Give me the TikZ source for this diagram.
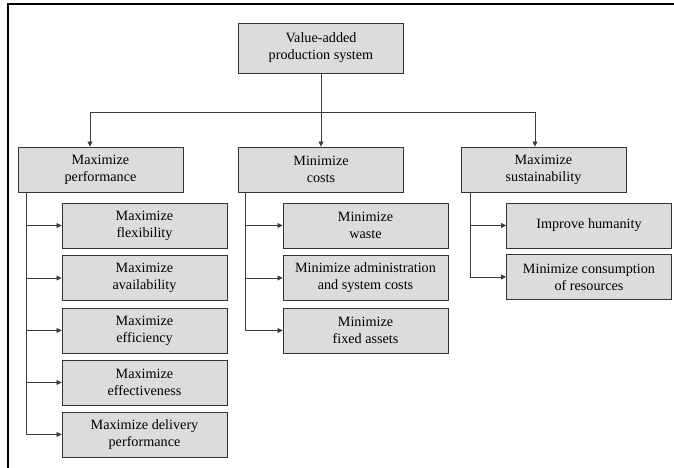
\documentclass[tikz,border=0pt]{standalone}
\usepackage{fontspec}
\setmainfont{Liberation Serif}
\usetikzlibrary{arrows.meta}
\definecolor{boxfill}{HTML}{DCDCDC}
\definecolor{boxline}{HTML}{333333}
\definecolor{conn}{HTML}{3A3A3A}
\tikzset{
  box/.style={draw=boxline, fill=boxfill, line width=0.9pt, minimum width=165pt, minimum height=45pt, inner sep=0pt, align=center, font=\fontsize{14.2}{16.8}\selectfont},
  topbox/.style={box, minimum height=50pt},
  conn/.style={draw=conn, line width=0.8pt},
  arr/.style={conn, -{Triangle[length=5pt,width=5pt]}},
}
\begin{document}
\begin{tikzpicture}[x=1pt,y=-1pt]
\useasboundingbox (0,0) rectangle (674,468);
\draw[line width=2.4pt] (8,470) -- (8,4) -- (676,4);
% top
\node[topbox] (root) at (321,48) {Value-added\\production system};
% level 2
\node[box] (perf) at (100.5,169.5) {Maximize\\performance};
\node[box] (cost) at (321,169.5) {Minimize\\costs};
\node[box] (sust) at (543.5,169.5) {Maximize\\sustainability};
% connectors level 1
\coordinate (hL) at (90,112);
\coordinate (hM) at (321,112);
\coordinate (hR) at (535,112);
\draw[arr] (root.south) -- (cost.north);
\draw[conn] (hL) -- (hR);
\draw[arr] (hL) -- (perf.north -| hL);
\draw[arr] (hR) -- (sust.north -| hR);
% column 1
\node[box] (c11) at (144.5,225.5) {Maximize\\flexibility};
\node[box] (c12) at (144.5,278) {Maximize\\availability};
\node[box] (c13) at (144.5,330.5) {Maximize\\efficiency};
\node[box] (c14) at (144.5,382.5) {Maximize\\effectiveness};
\node[box] (c15) at (144.5,434.5) {Maximize delivery\\performance};
\coordinate (t1) at (26,0);
\draw[conn] (perf.south -| t1) -- (c15.west -| t1);
\foreach \n in {c11,c12,c13,c14,c15}{\draw[arr] (\n.west -| t1) -- (\n.west);}
% column 2
\node[box] (c21) at (365.5,225.5) {Minimize\\waste};
\node[box] (c22) at (365.5,278) {Minimize administration\\and system costs};
\node[box] (c23) at (365.5,330.5) {Minimize\\fixed assets};
\coordinate (t2) at (245,0);
\draw[conn] (cost.south -| t2) -- (c23.west -| t2);
\foreach \n in {c21,c22,c23}{\draw[arr] (\n.west -| t2) -- (\n.west);}
% column 3
\node[box] (c31) at (589,225.5) {Improve humanity};
\node[box] (c32) at (589,277) {Minimize consumption\\of resources};
\coordinate (t3) at (470,0);
\draw[conn] (sust.south -| t3) -- (c32.west -| t3);
\foreach \n in {c31,c32}{\draw[arr] (\n.west -| t3) -- (\n.west);}
\end{tikzpicture}
\end{document}
